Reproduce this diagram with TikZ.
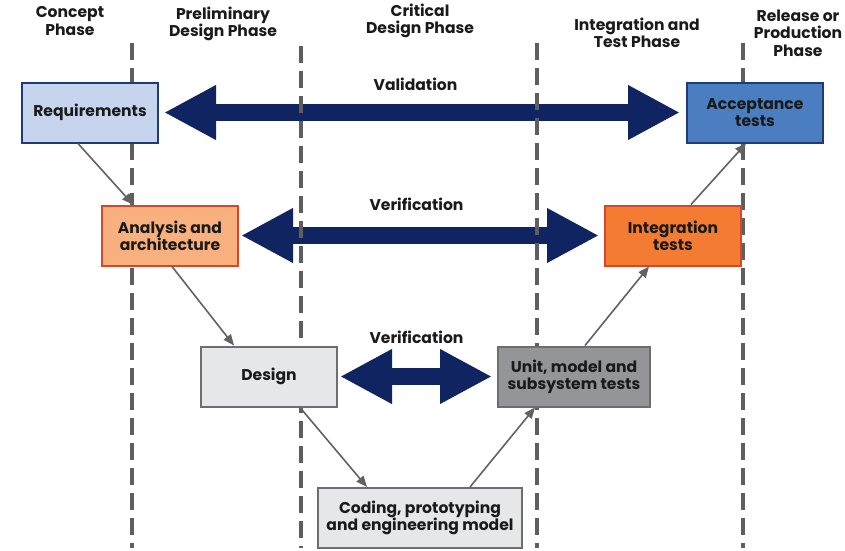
\documentclass[tikz,border=0pt]{standalone}
\usepackage{fontspec}
\setmainfont{Poppins}
\usetikzlibrary{arrows.meta}
\definecolor{navy}{HTML}{0F2460}
\definecolor{phasegray}{HTML}{5E5E5E}
\definecolor{linkgray}{HTML}{626262}
\definecolor{ink}{HTML}{1A1A1A}
\definecolor{reqfill}{HTML}{C6D4ED}
\definecolor{reqdraw}{HTML}{1E3A78}
\definecolor{accfill}{HTML}{4A7EC0}
\definecolor{anafill}{HTML}{F8B07E}
\definecolor{intfill}{HTML}{F47B32}
\definecolor{reddraw}{HTML}{D8452A}
\definecolor{lightfill}{HTML}{E6E7E9}
\definecolor{darkfill}{HTML}{939598}
\definecolor{graydraw}{HTML}{6D6E70}
\pgfdeclarelayer{back}
\pgfdeclarelayer{mid}
\pgfsetlayers{back,mid,main}
\tikzstyle{box}=[rectangle,draw,line width=2pt,minimum width=136pt,
              minimum height=60pt,align=center,inner sep=2pt,text=ink]
\tikzstyle{phase}=[align=center,text=ink,inner sep=0pt]
\tikzstyle{line}=[draw=phasegray,line width=4pt,dash pattern=on 17pt off 8pt]
\tikzstyle{link}=[draw=linkgray,line width=1.6pt,-{Triangle[length=11pt,width=9pt]}]
\tikzstyle{bigarrow}=[draw=navy,line width=17pt,
  {Triangle[length=52pt,width=51pt]}-{Triangle[length=52pt,width=51pt]}]

\begin{document}
\begin{tikzpicture}[x=1pt,y=-1pt,font=\fontsize{15.6}{17.3}\selectfont\bfseries]
	\useasboundingbox (0,0) rectangle (845,550);

	% phase headers
	\node[phase] (hcon) at (70,21) {Concept\\Phase};
	\node[phase] (hpre) at (223,24) {Preliminary\\Design Phase};
	\node[phase] (hcri) at (420,21) {Critical\\Design Phase};
	\node[phase] (hint) at (637,33) {Integration and\\Test Phase};
	\node[phase] (hrel) at (798,33) {Release or\\Production\\Phase};

	% phase borders
	\begin{pgfonlayer}{mid}
	\foreach \x/\y in {132/43,301/46,537/43,743/43}
		\draw[line] (\x,\y) -- (\x,548);
	\end{pgfonlayer}

	% left side of the V
	\node[box,fill=reqfill,draw=reqdraw] (req) at (90,112.5) {Requirements};
	\node[box,fill=anafill,draw=reddraw] (ana) at (170,235.5) {Analysis and\\architecture};
	\node[box,fill=lightfill,draw=graydraw] (des) at (269,376.5) {Design};
	\node[box,fill=lightfill,draw=graydraw,minimum width=204pt] (cod) at (420,518) {Coding, prototyping\\and engineering model};

	% right side of the V
	\node[box,fill=darkfill,draw=graydraw,minimum width=152pt] (uni) at (574,376.5) {Unit, model and\\subsystem tests};
	\node[box,fill=intfill,draw=reddraw] (int) at (673,235.5) {Integration\\tests};
	\node[box,fill=accfill,draw=reqdraw] (acc) at (755,112.5) {Acceptance\\tests};

	\begin{pgfonlayer}{back}
	\draw[bigarrow,shorten <=5pt,shorten >=6pt] (req) -- (acc)
		node[midway,yshift=28pt,xshift=-7pt,text=ink] (lval) {Validation};
	\draw[bigarrow,shorten <=2pt,shorten >=5pt] (ana) -- (int)
		node[midway,yshift=31pt,xshift=-5pt,text=ink] (lver) {Verification};
	\draw[bigarrow,shorten <=2pt,shorten >=5pt] (des) -- (uni)
		node[midway,yshift=39pt,xshift=-1pt,text=ink] (lvdu) {Verification};
	\end{pgfonlayer}

	\draw[link] ([xshift=-12pt]req.south) -- ([xshift=-37pt]ana.north);
	\draw[link] ([xshift=2pt]ana.south) -- ([xshift=-35pt]des.north);
	\draw[link] ([xshift=31pt]des.south) -- ([xshift=-53pt]cod.north);
	\draw[link] ([xshift=50pt]cod.north) -- ([xshift=-39pt]uni.south);
	\draw[link] ([xshift=11pt]uni.north) -- ([xshift=-24pt]int.south);
	\draw[link] ([xshift=18pt]int.north) -- ([xshift=-9pt]acc.south);
\end{tikzpicture}
\end{document}
